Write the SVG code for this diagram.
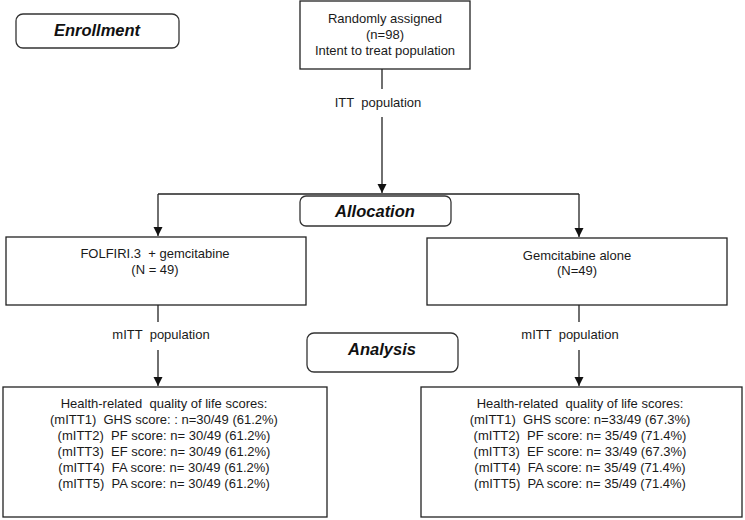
<svg xmlns="http://www.w3.org/2000/svg" width="745" height="520" viewBox="0 0 745 520">
<style>
  .box { fill: #ffffff; stroke: #222222; stroke-width: 1.3; }
  .rbox { fill: #ffffff; stroke: #333333; stroke-width: 1.3; }
  .t { font-family: "Liberation Sans", Arial, sans-serif; font-size: 13px; fill: #1a1a1a; text-anchor: middle; white-space: pre; }
  .h { font-family: "Liberation Sans", Arial, sans-serif; font-size: 16.5px; font-weight: bold; font-style: italic; fill: #111111; text-anchor: middle; }
  .c { fill: none; stroke: #222222; stroke-width: 1.3; }
</style>
<defs>
  <marker id="arr" markerUnits="userSpaceOnUse" markerWidth="10" markerHeight="10" refX="9" refY="4.5" orient="auto">
    <path d="M0,0 L9,4.5 L0,9 Z" fill="#111111"/>
  </marker>
</defs>
<rect width="745" height="520" fill="#ffffff"/>

<g id="connectors">
  <path class="c" d="M382,69 V89"/>
  <path class="c" d="M382,117 V193" marker-end="url(#arr)"/>
  <path class="c" d="M158,194 H579"/>
  <path class="c" d="M158,194 V236" marker-end="url(#arr)"/>
  <path class="c" d="M579,194 V237" marker-end="url(#arr)"/>
  <path class="c" d="M158,305 V322"/>
  <path class="c" d="M158,350 V386" marker-end="url(#arr)"/>
  <path class="c" d="M579,305 V322"/>
  <path class="c" d="M579,350 V386" marker-end="url(#arr)"/>
  <text class="t" x="378" y="107" xml:space="preserve">ITT  population</text>
  <text class="t" x="161" y="339" xml:space="preserve">mITT  population</text>
  <text class="t" x="570" y="339" xml:space="preserve">mITT  population</text>
</g>

<g id="enrollment">
  <rect class="rbox" x="16" y="14" width="163" height="34" rx="7"/>
  <text class="h" x="97" y="36">Enrollment</text>
</g>

<g id="randomized">
  <rect class="box" x="300" y="1" width="170" height="68"/>
  <text class="t" x="385" y="23">Randomly assigned</text>
  <text class="t" x="385" y="39">(n=98)</text>
  <text class="t" x="385" y="55">Intent to treat population</text>
</g>

<g id="allocation">
  <rect class="rbox" x="300" y="196" width="151" height="30" rx="6"/>
  <text class="h" x="375" y="217">Allocation</text>
</g>

<g id="arm-folfiri">
  <rect class="box" x="6" y="237" width="300" height="68"/>
  <text class="t" x="155" y="258" xml:space="preserve">FOLFIRI.3  + gemcitabine</text>
  <text class="t" x="155" y="274">(N = 49)</text>
</g>

<g id="arm-gemcitabine">
  <rect class="box" x="427" y="238" width="300" height="67"/>
  <text class="t" x="577" y="260">Gemcitabine alone</text>
  <text class="t" x="577" y="275">(N=49)</text>
</g>

<g id="analysis">
  <rect class="rbox" x="307" y="333" width="151" height="39" rx="7"/>
  <text class="h" x="382" y="355">Analysis</text>
</g>

<g id="hrqol-folfiri">
  <rect class="box" x="3" y="387" width="324" height="130"/>
  <text class="t" x="164" y="408" xml:space="preserve">Health-related  quality of life scores:</text>
  <text class="t" x="164" y="424" xml:space="preserve">(mITT1)  GHS score: : n=30/49 (61.2%)</text>
  <text class="t" x="164" y="440" xml:space="preserve">(mITT2)  PF score: n= 30/49 (61.2%)</text>
  <text class="t" x="164" y="456" xml:space="preserve">(mITT3)  EF score: n= 30/49 (61.2%)</text>
  <text class="t" x="164" y="472" xml:space="preserve">(mITT4)  FA score: n= 30/49 (61.2%)</text>
  <text class="t" x="164" y="488" xml:space="preserve">(mITT5)  PA score: n= 30/49 (61.2%)</text>
</g>

<g id="hrqol-gemcitabine">
  <rect class="box" x="421" y="387" width="321" height="130"/>
  <text class="t" x="580" y="408" xml:space="preserve">Health-related  quality of life scores:</text>
  <text class="t" x="580" y="424" xml:space="preserve">(mITT1)  GHS score: n=33/49 (67.3%)</text>
  <text class="t" x="580" y="440" xml:space="preserve">(mITT2)  PF score: n= 35/49 (71.4%)</text>
  <text class="t" x="580" y="456" xml:space="preserve">(mITT3)  EF score: n= 33/49 (67.3%)</text>
  <text class="t" x="580" y="472" xml:space="preserve">(mITT4)  FA score: n= 35/49 (71.4%)</text>
  <text class="t" x="580" y="488" xml:space="preserve">(mITT5)  PA score: n= 35/49 (71.4%)</text>
</g>
</svg>
